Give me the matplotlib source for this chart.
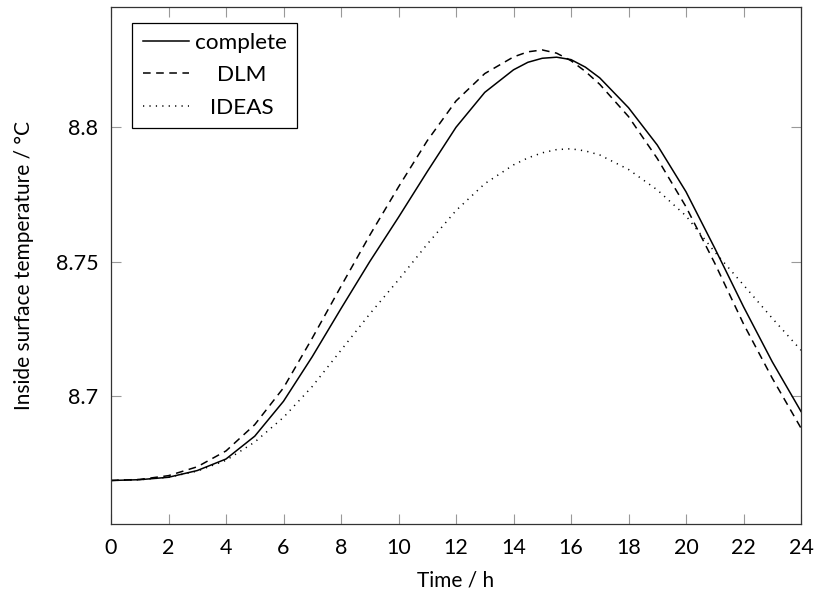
import matplotlib
matplotlib.use('Agg')
import matplotlib.pyplot as plt

plt.rcParams['font.family'] = ['Lato', 'DejaVu Sans']

hours = [0, 1, 2, 3, 4, 5, 6, 7, 8, 9, 10, 11, 12, 13, 14, 14.5, 15, 15.5, 16,
         16.5, 17, 18, 19, 20, 21, 22, 23, 24]
complete = [8.6685, 8.6688, 8.6697, 8.6722, 8.6765, 8.6850, 8.6980, 8.7146, 8.7325,
            8.7500, 8.7665, 8.7835, 8.8000, 8.8130, 8.8214, 8.8242, 8.8257, 8.8261,
            8.8252, 8.8224, 8.8184, 8.8073, 8.7934, 8.7760, 8.7550, 8.7332, 8.7127,
            8.6942]
dlm = [8.6685, 8.6689, 8.6703, 8.6736, 8.6795, 8.6893, 8.7030, 8.7215, 8.7408,
       8.7598, 8.7778, 8.7950, 8.8098, 8.8200, 8.8262, 8.8281, 8.8288, 8.8276,
       8.8248, 8.8208, 8.8160, 8.8040, 8.7884, 8.7704, 8.7494, 8.7268, 8.7066,
       8.6880]
ideas = [8.6685, 8.6688, 8.6697, 8.6720, 8.6760, 8.6828, 8.6920, 8.7035, 8.7170,
         8.7305, 8.7432, 8.7565, 8.7690, 8.7790, 8.7860, 8.7886, 8.7905, 8.7917,
         8.7920, 8.7912, 8.7897, 8.7843, 8.7767, 8.7670, 8.7536, 8.7413, 8.7289,
         8.7170]

xticks = list(range(0, 25, 2))
yticks = [8.7, 8.75, 8.8]
ytick_labels = ['8.7', '8.75', '8.8']

fs = 15.5

fig = plt.figure(figsize=(8.15, 5.96), dpi=100)
ax = fig.add_axes([111 / 815, 72 / 596, 690 / 815, 517.3 / 596])

ax.plot(hours, complete, color='black', lw=1.1, label='complete')
ax.plot(hours, dlm, color='black', lw=1.1, linestyle=(0, (5, 3.6)), label='DLM')
ax.plot(hours, ideas, color='black', lw=1.1, linestyle=(0, (0.8, 3.4)), label='IDEAS')

ax.set_xlim(0, 24)
ax.set_ylim(8.6523, 8.8449)
ax.set_xticks(xticks)
ax.set_yticks(yticks)
ax.set_yticklabels(ytick_labels)
ax.tick_params(direction='in', length=7, width=0.8, color='#999999',
               top=True, right=True, labelsize=fs)
ax.tick_params(axis='x', pad=10)
ax.tick_params(axis='y', pad=9)
for s in ax.spines.values():
    s.set_linewidth(0.9)
    s.set_color('#333333')

ax.set_xlabel('Time / h', fontsize=fs - 0.5, labelpad=9)
ax.set_ylabel('Inside surface temperature / °C', fontsize=fs - 0.5, labelpad=16)

leg = ax.legend(loc='upper left', bbox_to_anchor=(0.031, 0.969), fontsize=16.2,
                frameon=True, fancybox=False, framealpha=1, edgecolor='black',
                handlelength=2.05, handletextpad=0.3, labelspacing=0.55,
                borderpad=0.45, borderaxespad=0)
leg.get_frame().set_linewidth(0.9)

# center the legend texts like pgfplots does
fig.canvas.draw()
r = fig.canvas.get_renderer()
widths = [t.get_window_extent(r).width for t in leg.get_texts()]
wmax = max(widths)
for t, w in zip(leg.get_texts(), widths):
    t.set_position(((wmax - w) / 2, 0))

fig.savefig('out.png', dpi=100)
